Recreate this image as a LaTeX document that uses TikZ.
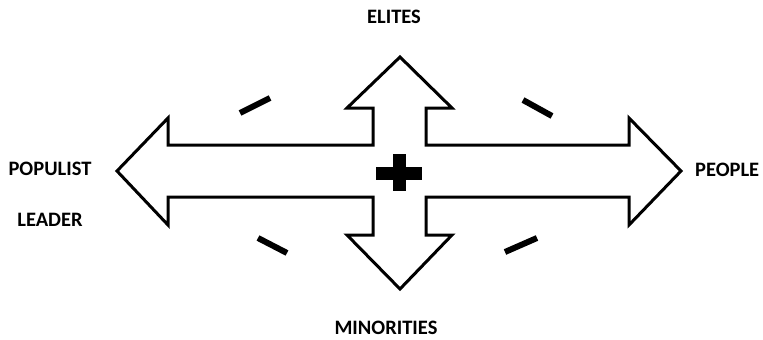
\documentclass[tikz,border=0pt]{standalone}
\usepackage{fontspec}
\setmainfont{Carlito}
\begin{document}
\begin{tikzpicture}[x=1pt,y=-1pt,
  lbl/.style={font=\bfseries\fontsize{20.5}{24}\selectfont, inner sep=0pt, anchor=center},
  outline/.style={draw=black, line width=3pt, fill=white},
  minus/.style={line width=6pt, line cap=butt}]
\useasboundingbox (0,0) rectangle (763,340);
\draw[outline] (117,171) -- (168,118) -- (168,145) -- (373,145) -- (373,108) -- (347,108)
  -- (400,57) -- (452,108) -- (426,108) -- (426,145) -- (629,145) -- (629,118)
  -- (681,171) -- (629,225) -- (629,197) -- (426,197) -- (426,235) -- (452,235)
  -- (400,289) -- (347,235) -- (373,235) -- (373,197) -- (168,197) -- (168,225) -- cycle;
% plus sign
\fill (393,154) rectangle (406,191);
\fill (376,167) rectangle (422,180);
% minus signs
\draw[minus] (240,113) -- (270,98);
\draw[minus] (523,100) -- (552,116);
\draw[minus] (258,238) -- (287,253);
\draw[minus] (505,252) -- (537,238);
% labels
\node[lbl] (elites) at (394,17) {ELITES};
\node[lbl] (minorities) at (386,328) {MINORITIES};
\node[lbl, anchor=west] (people) at (695,170) {PEOPLE};
\node[lbl] (populist) at (50,169) {POPULIST};
\node[lbl] (leader) at (50,220) {LEADER};
\end{tikzpicture}
\end{document}
